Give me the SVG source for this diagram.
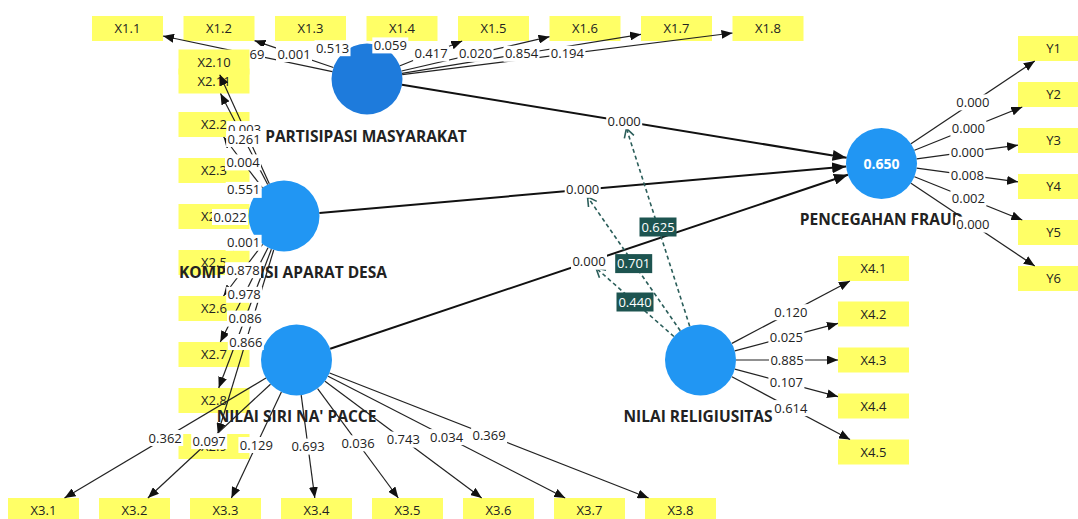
<svg xmlns="http://www.w3.org/2000/svg" width="1078" height="519" viewBox="0 0 1078 519">
<style>
.ind rect{fill:#ffff66}
.ind text{font-family:"Open Sans","Noto Sans",sans-serif;font-size:13px;fill:#222;text-anchor:middle}
.lv circle{fill:#2196f3}
.name{font-family:"Open Sans","Noto Sans",sans-serif;font-size:15.5px;font-weight:bold;fill:#222;text-anchor:middle}
.ln{stroke:#222;stroke-width:1.2;fill:none;marker-end:url(#ah)}
.sp{stroke:#111;stroke-width:2;fill:none;marker-end:url(#ah2)}
.md{stroke:#2b5e5a;stroke-width:1.6;fill:none;stroke-dasharray:4 3;marker-end:url(#oh)}
.lb rect{fill:#fff}
.lb text,.ml text{font-family:"Open Sans","Noto Sans",sans-serif;font-size:13px;fill:#222;text-anchor:middle}
.ml rect{fill:#1d5450}
.ml text{fill:#fff}
.r2{font-family:"Open Sans","Noto Sans",sans-serif;font-size:14px;font-weight:bold;fill:#fff;text-anchor:middle}
</style>
<defs>
<marker id="ah" markerUnits="userSpaceOnUse" markerWidth="11" markerHeight="9" viewBox="0 0 11 9" refX="11" refY="4.5" orient="auto"><path d="M0,0 L11,4.5 L0,9 z" fill="#111"/></marker>
<marker id="ah2" markerUnits="userSpaceOnUse" markerWidth="14" markerHeight="11" viewBox="0 0 14 11" refX="14" refY="5.5" orient="auto"><path d="M0,0 L14,5.5 L0,11 z" fill="#111"/></marker>
<marker id="oh" markerUnits="userSpaceOnUse" markerWidth="12" markerHeight="12" viewBox="0 0 12 12" refX="10" refY="6" orient="auto"><path d="M1,1 L10,6 L1,11" fill="none" stroke="#2b5e5a" stroke-width="1.6"/></marker>
</defs>
<rect width="1078" height="519" fill="#fff"/>

<!-- indicator boxes -->
<g id="X1_1" class="ind" transform="translate(92,16)"><rect width="71" height="25"/><text x="35.5" y="17">X1.1</text></g>
<g id="X1_2" class="ind" transform="translate(183.5,16)"><rect width="71" height="25"/><text x="35.5" y="17">X1.2</text></g>
<g id="X1_3" class="ind" transform="translate(275,16)"><rect width="71" height="25"/><text x="35.5" y="17">X1.3</text></g>
<g id="X1_4" class="ind" transform="translate(366.5,16)"><rect width="71" height="25"/><text x="35.5" y="17">X1.4</text></g>
<g id="X1_5" class="ind" transform="translate(458,16)"><rect width="71" height="25"/><text x="35.5" y="17">X1.5</text></g>
<g id="X1_6" class="ind" transform="translate(549.5,16)"><rect width="71" height="25"/><text x="35.5" y="17">X1.6</text></g>
<g id="X1_7" class="ind" transform="translate(641,16)"><rect width="71" height="25"/><text x="35.5" y="17">X1.7</text></g>
<g id="X1_8" class="ind" transform="translate(732.5,16)"><rect width="71" height="25"/><text x="35.5" y="17">X1.8</text></g>

<g id="X2_11" class="ind" transform="translate(178.5,68.5)"><rect width="71" height="25"/><text x="35.5" y="17">X2.11</text></g>
<g id="X2_2" class="ind" transform="translate(178.5,112)"><rect width="71" height="25"/><text x="35.5" y="17">X2.2</text></g>
<g id="X2_3" class="ind" transform="translate(178.5,158)"><rect width="71" height="25"/><text x="35.5" y="17">X2.3</text></g>
<g id="X2_4" class="ind" transform="translate(178.5,204)"><rect width="71" height="25"/><text x="35.5" y="17">X2.4</text></g>
<g id="X2_5" class="ind" transform="translate(178.5,250)"><rect width="71" height="25"/><text x="35.5" y="17">X2.5</text></g>
<g id="X2_6" class="ind" transform="translate(178.5,296)"><rect width="71" height="25"/><text x="35.5" y="17">X2.6</text></g>
<g id="X2_7" class="ind" transform="translate(178.5,342)"><rect width="71" height="25"/><text x="35.5" y="17">X2.7</text></g>
<g id="X2_8" class="ind" transform="translate(178.5,388)"><rect width="71" height="25"/><text x="35.5" y="17">X2.8</text></g>
<g id="X2_9" class="ind" transform="translate(178.5,434)"><rect width="71" height="25"/><text x="35.5" y="17">X2.9</text></g>

<g id="X3_1" class="ind" transform="translate(8,498)"><rect width="71" height="25"/><text x="35.5" y="17">X3.1</text></g>
<g id="X3_2" class="ind" transform="translate(99,498)"><rect width="71" height="25"/><text x="35.5" y="17">X3.2</text></g>
<g id="X3_3" class="ind" transform="translate(190,498)"><rect width="71" height="25"/><text x="35.5" y="17">X3.3</text></g>
<g id="X3_4" class="ind" transform="translate(281,498)"><rect width="71" height="25"/><text x="35.5" y="17">X3.4</text></g>
<g id="X3_5" class="ind" transform="translate(372,498)"><rect width="71" height="25"/><text x="35.5" y="17">X3.5</text></g>
<g id="X3_6" class="ind" transform="translate(463,498)"><rect width="71" height="25"/><text x="35.5" y="17">X3.6</text></g>
<g id="X3_7" class="ind" transform="translate(554,498)"><rect width="71" height="25"/><text x="35.5" y="17">X3.7</text></g>
<g id="X3_8" class="ind" transform="translate(645,498)"><rect width="71" height="25"/><text x="35.5" y="17">X3.8</text></g>

<g id="X4_1" class="ind" transform="translate(838,256)"><rect width="71" height="25"/><text x="35.5" y="17">X4.1</text></g>
<g id="X4_2" class="ind" transform="translate(838,301.5)"><rect width="71" height="25"/><text x="35.5" y="17">X4.2</text></g>
<g id="X4_3" class="ind" transform="translate(838,347.5)"><rect width="71" height="25"/><text x="35.5" y="17">X4.3</text></g>
<g id="X4_4" class="ind" transform="translate(838,393.5)"><rect width="71" height="25"/><text x="35.5" y="17">X4.4</text></g>
<g id="X4_5" class="ind" transform="translate(838,439.5)"><rect width="71" height="25"/><text x="35.5" y="17">X4.5</text></g>

<g id="Y1" class="ind" transform="translate(1018,36)"><rect width="71" height="25"/><text x="35.5" y="17">Y1</text></g>
<g id="Y2" class="ind" transform="translate(1018,82)"><rect width="71" height="25"/><text x="35.5" y="17">Y2</text></g>
<g id="Y3" class="ind" transform="translate(1018,128)"><rect width="71" height="25"/><text x="35.5" y="17">Y3</text></g>
<g id="Y4" class="ind" transform="translate(1018,174)"><rect width="71" height="25"/><text x="35.5" y="17">Y4</text></g>
<g id="Y5" class="ind" transform="translate(1018,220)"><rect width="71" height="25"/><text x="35.5" y="17">Y5</text></g>
<g id="Y6" class="ind" transform="translate(1018,266)"><rect width="71" height="25"/><text x="35.5" y="17">Y6</text></g>

<!-- latent variables -->
<g id="partisipasi" class="lv"><circle cx="367" cy="79" r="35.5" style="fill:#1e7bdc"/><text class="name" x="366" y="142">PARTISIPASI MASYARAKAT</text></g>
<g id="kompetensi" class="lv"><circle cx="284" cy="216" r="35.5"/><text class="name" x="283" y="278">KOMPETENSI APARAT DESA</text></g>
<g id="siri" class="lv"><circle cx="296.5" cy="360" r="35.5"/><text class="name" x="296.5" y="422">NILAI SIRI NA' PACCE</text></g>
<g id="religiusitas" class="lv"><circle cx="700.5" cy="360" r="35.5"/><text class="name" x="698" y="422">NILAI RELIGIUSITAS</text></g>
<g id="pencegahan" class="lv"><circle cx="881.5" cy="163.5" r="35.5"/><text class="r2" x="881.5" y="168.5">0.650</text><text class="name" x="881.5" y="225">PENCEGAHAN FRAUD</text></g>

<!-- connectors -->
<g id="connectors">
<line class="ln" x1="332.3" y1="71.7" x2="163" y2="36"/>
<line class="ln" x1="333.4" y1="67.5" x2="254.5" y2="40.6"/>
<line class="ln" x1="340.5" y1="55.3" x2="324.5" y2="41"/>
<line class="ln" x1="387.2" y1="49.8" x2="393.3" y2="41"/>
<line class="ln" x1="400" y1="65.8" x2="462.2" y2="41"/>
<line class="ln" x1="401.6" y1="71" x2="549.5" y2="36.7"/>
<line class="ln" x1="402" y1="73.3" x2="641" y2="34.3"/>
<line class="ln" x1="402.2" y1="74.6" x2="732.5" y2="33"/>

<line class="ln" x1="269.3" y1="183.7" x2="219.7" y2="74.5"/>
<line class="ln" x1="267.7" y1="184.5" x2="220.5" y2="93.5"/>
<line class="ln" x1="262.4" y1="187.8" x2="223.6" y2="137"/>
<line class="ln" x1="254.2" y1="196.7" x2="233.2" y2="183"/>
<line class="ln" x1="254.4" y1="235.7" x2="232.8" y2="250"/>
<line class="ln" x1="262.6" y1="244.3" x2="223.5" y2="296"/>
<line class="ln" x1="268" y1="247.7" x2="220.3" y2="342"/>
<line class="ln" x1="271.4" y1="249.2" x2="218.7" y2="388"/>
<line class="ln" x1="273.7" y1="250" x2="217.8" y2="434"/>

<line class="ln" x1="266" y1="378.1" x2="64.5" y2="498"/>
<line class="ln" x1="270.5" y1="384.2" x2="147.9" y2="498"/>
<line class="ln" x1="281.4" y1="392.1" x2="231.4" y2="498"/>
<line class="ln" x1="301.2" y1="395.2" x2="314.8" y2="498"/>
<line class="ln" x1="317.6" y1="388.6" x2="398.3" y2="498"/>
<line class="ln" x1="325" y1="381.2" x2="481.7" y2="498"/>
<line class="ln" x1="328.1" y1="376.2" x2="565.2" y2="498"/>
<line class="ln" x1="329.6" y1="373" x2="648.6" y2="498"/>

<line class="ln" x1="731.9" y1="343.4" x2="849.9" y2="281"/>
<line class="ln" x1="734.8" y1="350.9" x2="838" y2="323.4"/>
<line class="ln" x1="736" y1="360" x2="838" y2="360"/>
<line class="ln" x1="734.8" y1="369.1" x2="838" y2="396.6"/>
<line class="ln" x1="731.9" y1="376.7" x2="850" y2="439.5"/>

<line class="ln" x1="911" y1="143.8" x2="1034.8" y2="61"/>
<line class="ln" x1="914.5" y1="150.3" x2="1022.3" y2="107"/>
<line class="ln" x1="916.7" y1="158.8" x2="1018" y2="145.2"/>
<line class="ln" x1="916.7" y1="168.2" x2="1018" y2="181.8"/>
<line class="ln" x1="914.5" y1="176.7" x2="1022.3" y2="220"/>
<line class="ln" x1="911" y1="183.2" x2="1034.8" y2="266"/>

<line class="sp" x1="402" y1="84.75" x2="846.5" y2="157.75"/>
<line class="sp" x1="319.4" y1="212.9" x2="846.1" y2="166.6"/>
<line class="sp" x1="330.2" y1="348.7" x2="847.9" y2="174.8"/>

<line class="md" x1="689.7" y1="326.2" x2="626.4" y2="128.3"/>
<line class="md" x1="680.3" y1="330.8" x2="587.5" y2="196.8"/>
<line class="md" x1="673.9" y1="336.5" x2="596" y2="268"/>
</g>

<!-- labels -->
<g id="labels">
<g class="lb" transform="translate(257,54)"><rect x="-8" y="-8" width="16" height="16"/><text y="4.5">69</text></g>
<g class="lb" transform="translate(294,54)"><rect x="-18" y="-8" width="36" height="16"/><text y="4.5">0.001</text></g>
<g class="lb" transform="translate(332.5,48.2)"><rect x="-18" y="-8" width="36" height="16"/><text y="4.5">0.513</text></g>
<g class="lb" transform="translate(390.3,45.4)"><rect x="-18" y="-8" width="36" height="16"/><text y="4.5">0.059</text></g>
<g class="lb" transform="translate(431.1,53.4)"><rect x="-18" y="-8" width="36" height="16"/><text y="4.5">0.417</text></g>
<g class="lb" transform="translate(475.5,53.9)"><rect x="-18" y="-8" width="36" height="16"/><text y="4.5">0.020</text></g>
<g class="lb" transform="translate(521.5,53.8)"><rect x="-18" y="-8" width="36" height="16"/><text y="4.5">0.854</text></g>
<g class="lb" transform="translate(567.4,53.8)"><rect x="-18" y="-8" width="36" height="16"/><text y="4.5">0.194</text></g>

<g class="lb" transform="translate(244.5,129.1)"><rect x="-18" y="-8" width="36" height="16"/><text y="4.5">0.003</text></g>
<g class="lb" transform="translate(244.1,139)"><rect x="-18" y="-8" width="36" height="16"/><text y="4.5">0.261</text></g>
<g class="lb" transform="translate(243,162.4)"><rect x="-18" y="-8" width="36" height="16"/><text y="4.5">0.004</text></g>
<g class="lb" transform="translate(243.7,189.9)"><rect x="-18" y="-8" width="36" height="16"/><text y="4.5">0.551</text></g>
<g class="lb" transform="translate(230,217)"><rect x="-18" y="-8" width="36" height="16"/><text y="4.5">0.022</text></g>
<g class="lb" transform="translate(243.6,242.8)"><rect x="-18" y="-8" width="36" height="16"/><text y="4.5">0.001</text></g>
<g class="lb" transform="translate(243,270.2)"><rect x="-18" y="-8" width="36" height="16"/><text y="4.5">0.878</text></g>
<g class="lb" transform="translate(244.2,294.8)"><rect x="-18" y="-8" width="36" height="16"/><text y="4.5">0.978</text></g>
<g class="lb" transform="translate(245,318.6)"><rect x="-18" y="-8" width="36" height="16"/><text y="4.5">0.086</text></g>
<g class="lb" transform="translate(245.8,342)"><rect x="-18" y="-8" width="36" height="16"/><text y="4.5">0.866</text></g>

<g class="lb" transform="translate(165.2,438)"><rect x="-18" y="-8" width="36" height="16"/><text y="4.5">0.362</text></g>
<g class="lb" transform="translate(209.2,441.1)"><rect x="-18" y="-8" width="36" height="16"/><text y="4.5">0.097</text></g>
<g class="lb" transform="translate(256.4,445)"><rect x="-18" y="-8" width="36" height="16"/><text y="4.5">0.129</text></g>
<g class="lb" transform="translate(308,446.6)"><rect x="-18" y="-8" width="36" height="16"/><text y="4.5">0.693</text></g>
<g class="lb" transform="translate(358,443.3)"><rect x="-18" y="-8" width="36" height="16"/><text y="4.5">0.036</text></g>
<g class="lb" transform="translate(403.3,439.6)"><rect x="-18" y="-8" width="36" height="16"/><text y="4.5">0.743</text></g>
<g class="lb" transform="translate(446.6,437.1)"><rect x="-18" y="-8" width="36" height="16"/><text y="4.5">0.034</text></g>
<g class="lb" transform="translate(489.1,435.5)"><rect x="-18" y="-8" width="36" height="16"/><text y="4.5">0.369</text></g>

<g class="lb" transform="translate(790.9,312.2)"><rect x="-18" y="-8" width="36" height="16"/><text y="4.5">0.120</text></g>
<g class="lb" transform="translate(786.4,337.2)"><rect x="-18" y="-8" width="36" height="16"/><text y="4.5">0.025</text></g>
<g class="lb" transform="translate(787,360)"><rect x="-18" y="-8" width="36" height="16"/><text y="4.5">0.885</text></g>
<g class="lb" transform="translate(786.4,382.8)"><rect x="-18" y="-8" width="36" height="16"/><text y="4.5">0.107</text></g>
<g class="lb" transform="translate(790.9,408.1)"><rect x="-18" y="-8" width="36" height="16"/><text y="4.5">0.614</text></g>

<g class="lb" transform="translate(972.9,102.4)"><rect x="-18" y="-8" width="36" height="16"/><text y="4.5">0.000</text></g>
<g class="lb" transform="translate(968.4,128.7)"><rect x="-18" y="-8" width="36" height="16"/><text y="4.5">0.000</text></g>
<g class="lb" transform="translate(967.3,152)"><rect x="-18" y="-8" width="36" height="16"/><text y="4.5">0.000</text></g>
<g class="lb" transform="translate(967.3,175)"><rect x="-18" y="-8" width="36" height="16"/><text y="4.5">0.008</text></g>
<g class="lb" transform="translate(968.4,198.4)"><rect x="-18" y="-8" width="36" height="16"/><text y="4.5">0.002</text></g>
<g class="lb" transform="translate(972.9,224.6)"><rect x="-18" y="-8" width="36" height="16"/><text y="4.5">0.000</text></g>

<g class="lb" transform="translate(624.2,121.25)"><rect x="-18" y="-8" width="36" height="16"/><text y="4.5">0.000</text></g>
<g class="lb" transform="translate(582.7,189.8)"><rect x="-18" y="-8" width="36" height="16"/><text y="4.5">0.000</text></g>
<g class="lb" transform="translate(589,261.7)"><rect x="-18" y="-8" width="36" height="16"/><text y="4.5">0.000</text></g>

<g class="ml" transform="translate(658,227)"><rect x="-18.5" y="-9.5" width="37" height="19"/><text y="4.5">0.625</text></g>
<g class="ml" transform="translate(633.7,263.6)"><rect x="-18.5" y="-9.5" width="37" height="19"/><text y="4.5">0.701</text></g>
<g class="ml" transform="translate(635,302)"><rect x="-18.5" y="-9.5" width="37" height="19"/><text y="4.5">0.440</text></g>
</g>

<g id="X2_10" class="ind" transform="translate(178.5,49.5)"><rect width="71" height="25"/><text x="35.5" y="17">X2.10</text></g>
</svg>
